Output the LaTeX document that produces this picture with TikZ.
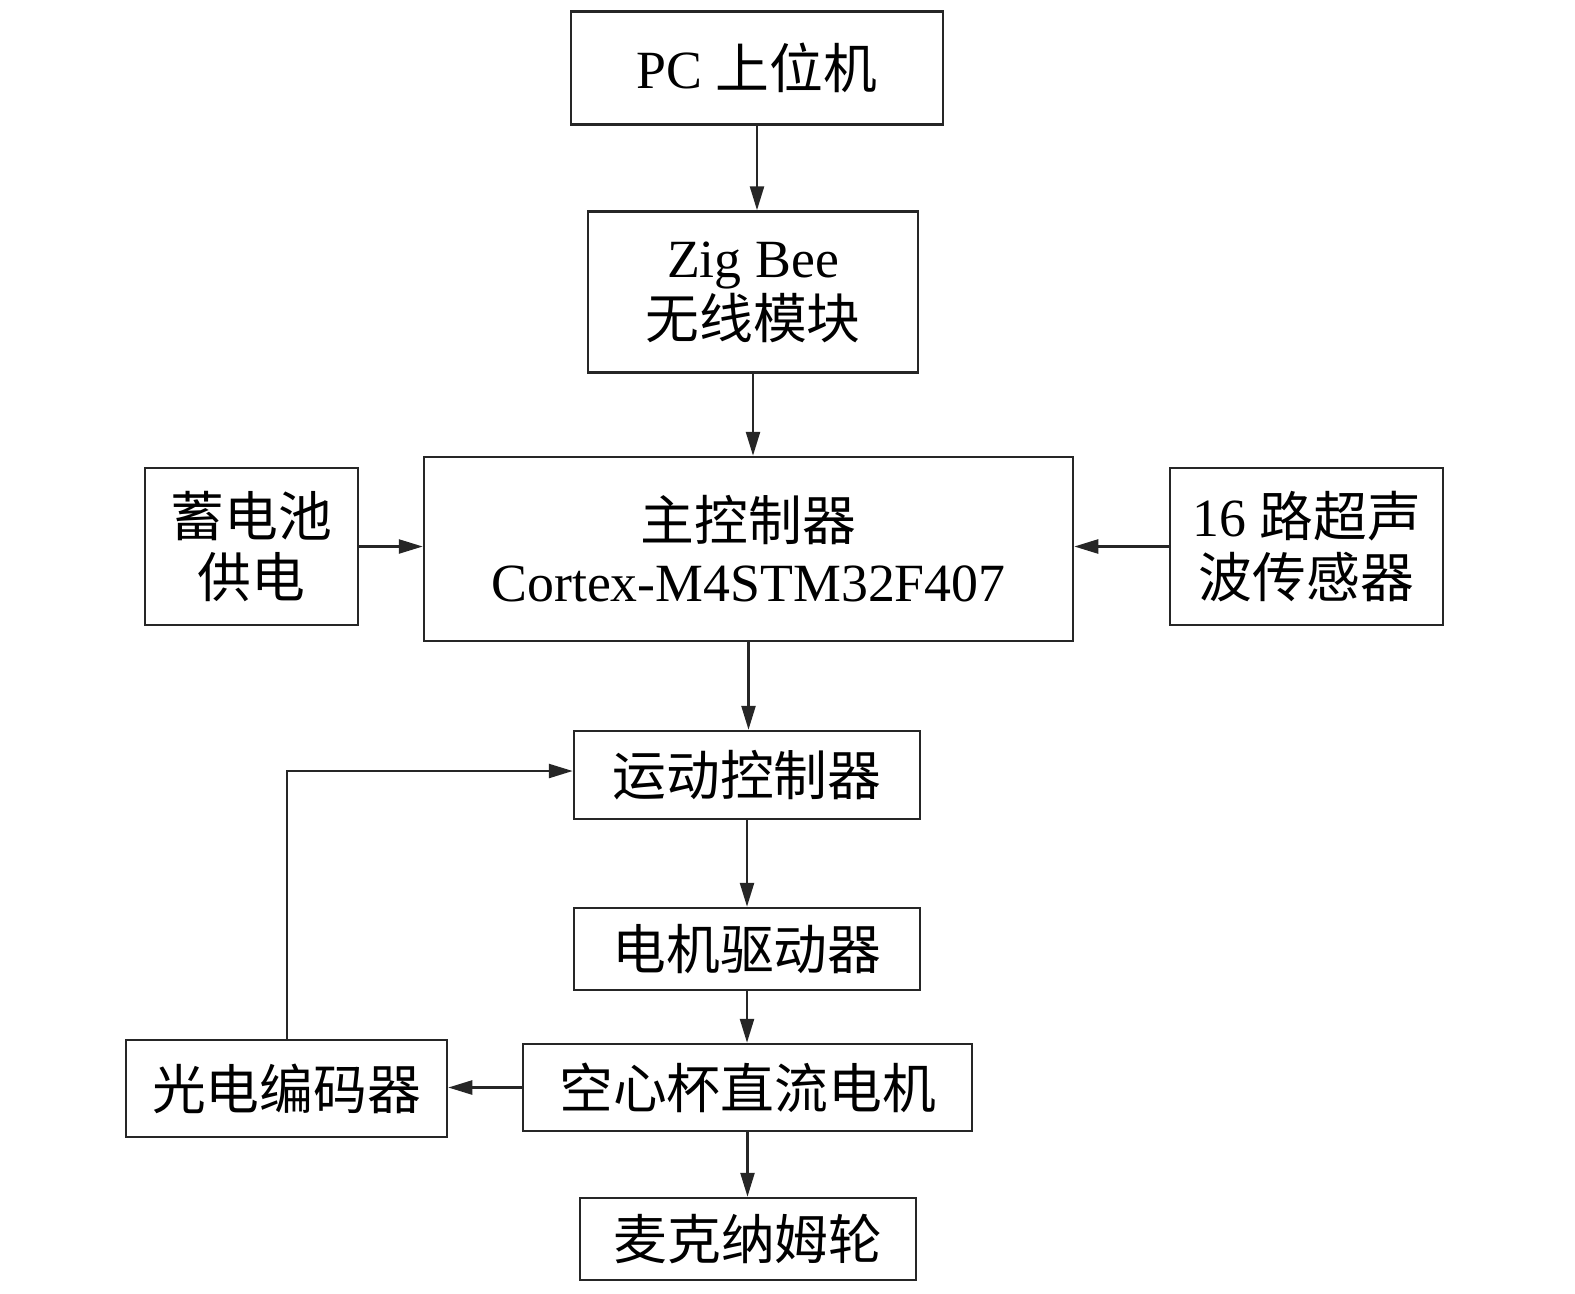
\documentclass[tikz,border=0pt]{standalone}
\usepackage{fontspec}
\setmainfont{Liberation Serif}
\newfontfamily\cjk{Noto Sans CJK SC}
\usetikzlibrary{arrows.meta}
\begin{document}
\begin{tikzpicture}[x=1bp,y=-1bp,
  box/.style={draw=black!85, line width=2.5bp, inner sep=0pt, align=center,
    font=\fontsize{54}{61}\selectfont},
  arr/.style={draw=black!85, line width=2.5bp, -{Triangle[length=24bp,width=14bp]}}]
\useasboundingbox (0,0) rectangle (1575,1293);
\node[box, minimum width=372bp, minimum height=113bp] (pc) at (757,68) {PC {\cjk 上位机}};
\node[box, minimum width=330bp, minimum height=161bp] (zig) at (753,292) {Zig Bee\\{\cjk 无线模块}};
\node[box, minimum width=649bp, minimum height=184bp] (main) at (748.5,549) {{\cjk 主控制器}\\Cortex-M4STM32F407};
\node[box, minimum width=213bp, minimum height=157bp] (bat) at (251.5,546.5) {{\cjk 蓄电池}\\{\cjk 供电}};
\node[box, minimum width=273bp, minimum height=157bp] (sen) at (1306.5,546.5) {16 {\cjk 路超声}\\{\cjk 波传感器}};
\node[box, minimum width=346bp, minimum height=88bp] (mot) at (747,775) {\cjk 运动控制器};
\node[box, minimum width=346bp, minimum height=82bp] (drv) at (747,949) {\cjk 电机驱动器};
\node[box, minimum width=449bp, minimum height=87bp] (dcm) at (747.5,1087.5) {\cjk 空心杯直流电机};
\node[box, minimum width=321bp, minimum height=97bp] (enc) at (286.5,1088.5) {\cjk 光电编码器};
\node[box, minimum width=336bp, minimum height=82bp] (whl) at (748,1239) {\cjk 麦克纳姆轮};
\coordinate (c1) at (287,771);
\draw[arr] (pc.south) -- (pc.south |- zig.north);
\draw[arr] (zig.south) -- (zig.south |- main.north);
\draw[arr] (bat.east) -- (main.west |- bat.east);
\draw[arr] (sen.west) -- (main.east |- sen.west);
\draw[arr] (main.south) -- (main.south |- mot.north);
\draw[arr] (mot.south) -- (drv.north);
\draw[arr] (drv.south) -- (dcm.north -| drv.south);
\draw[arr] (dcm.west) -- (enc.east |- dcm.west);
\draw[arr] (dcm.south) -- (whl.north -| dcm.south);
\draw[arr] (enc.north -| c1) -- (c1) -- (mot.west |- c1);
\end{tikzpicture}
\end{document}
